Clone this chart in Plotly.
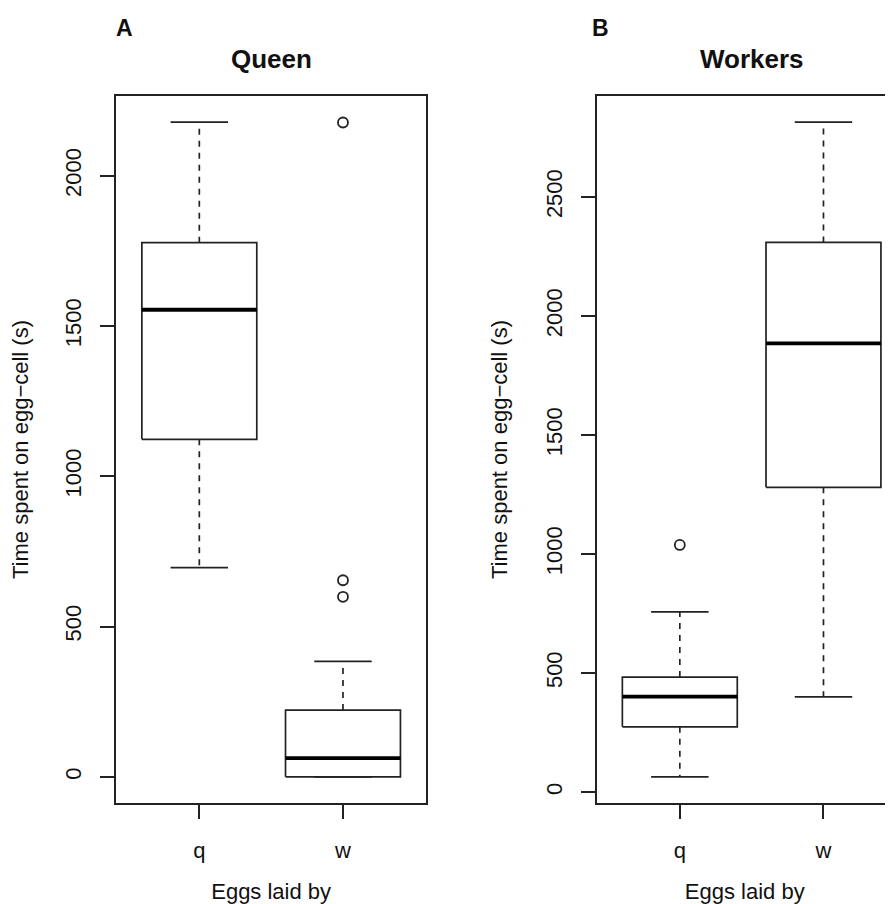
import plotly.graph_objects as go

# ---------------- data ----------------
groups = ["q", "w"]

queen_lower = [696, 0]
queen_q1 = [1123, 0]
queen_median = [1554, 62]
queen_q3 = [1777, 222]
queen_upper = [2178, 384]
queen_outliers = [[], [2177, 654, 599]]

workers_lower = [64, 400]
workers_q1 = [274, 1280]
workers_median = [401, 1885]
workers_q3 = [483, 2309]
workers_upper = [757, 2814]
workers_outliers = [[1038], []]

queen_ticks = [0, 500, 1000, 1500, 2000]
workers_ticks = [0, 500, 1000, 1500, 2000, 2500]

panel_letters = ["A", "B"]
panel_titles = ["Queen", "Workers"]
y_title = "Time spent on egg\u2212cell (s)"
x_title = "Eggs laid by"

# ---------------- styling ----------------
FONT = "Liberation Sans, Arial, Helvetica, sans-serif"
LINE = "#222222"
TXT = "#111111"
BOX_HALF = 0.4
CAP_HALF = 0.2


def box_traces(lower, q1, med, q3, upper, outliers, xa, ya):
    sx, sy, dx, dy, mx, my, ox, oy = [], [], [], [], [], [], [], []
    for i in range(len(groups)):
        p = i + 1
        # whiskers (dashed)
        dx += [p, p, None, p, p, None]
        dy += [q3[i], upper[i], None, q1[i], lower[i], None]
        # staples + box (solid)
        sx += [p - CAP_HALF, p + CAP_HALF, None, p - CAP_HALF, p + CAP_HALF, None]
        sy += [upper[i], upper[i], None, lower[i], lower[i], None]
        sx += [p - BOX_HALF, p + BOX_HALF, p + BOX_HALF, p - BOX_HALF, p - BOX_HALF, None]
        sy += [q1[i], q1[i], q3[i], q3[i], q1[i], None]
        # median
        mx += [p - BOX_HALF, p + BOX_HALF, None]
        my += [med[i], med[i], None]
        for v in outliers[i]:
            ox.append(p)
            oy.append(v)
    common = dict(xaxis=xa, yaxis=ya, showlegend=False, hoverinfo="skip")
    return [
        go.Scatter(x=dx, y=dy, mode="lines",
                   line=dict(color=LINE, width=1.7, dash="6px,6px"), **common),
        go.Scatter(x=sx, y=sy, mode="lines",
                   line=dict(color=LINE, width=1.7), **common),
        go.Scatter(x=mx, y=my, mode="lines",
                   line=dict(color="#000000", width=3.8), **common),
        go.Scatter(x=ox, y=oy, mode="markers",
                   marker=dict(symbol="circle-open", size=10,
                               color=LINE, line=dict(width=1.8, color=LINE)),
                   **common),
    ]


def r_range(*arrays):
    vals = []
    for a in arrays:
        for v in a:
            if isinstance(v, list):
                vals += v
            else:
                vals.append(v)
    lo, hi = min(vals), max(vals)
    pad = 0.04 * (hi - lo)
    return [lo - pad, hi + pad]


fig = go.Figure()
for t in box_traces(queen_lower, queen_q1, queen_median, queen_q3, queen_upper,
                    queen_outliers, "x", "y"):
    fig.add_trace(t)
for t in box_traces(workers_lower, workers_q1, workers_median, workers_q3,
                    workers_upper, workers_outliers, "x2", "y2"):
    fig.add_trace(t)

yr1 = r_range(queen_lower, queen_upper, queen_outliers)
yr2 = r_range(workers_lower, workers_upper, workers_outliers)

# the page body adds an 8px offset; figure is sized to fill the rest
OFF = 8
W, H = 893 - OFF, 904 - OFF
ML, MR, MT, MB = 116 - OFF, 0, 96 - OFF, 101
PW = W - ML - MR
PH = H - MT - MB
dom1 = [0, 310.3 / PW]
dom2 = [(596.5 - 116) / PW, 1]

xaxis_common = dict(
    tickvals=[1, 2], ticktext=groups, ticks="outside", ticklen=14,
    tickwidth=1.6, tickcolor=LINE, showline=True, linecolor=LINE,
    linewidth=1.7, mirror=True, showgrid=False, zeroline=False,
    ticklabelstandoff=13,
    tickfont=dict(size=22, color=TXT, family=FONT),
    title=dict(text=x_title, font=dict(size=22, color=TXT, family=FONT),
               standoff=24),
    fixedrange=True,
)
yaxis_common = dict(
    ticks="outside", ticklen=14, tickwidth=1.6, tickcolor=LINE,
    showline=True, linecolor=LINE, linewidth=1.7, showgrid=False,
    zeroline=False, tickangle=-90, ticklabelstandoff=10,
    tickfont=dict(size=22, color=TXT, family=FONT),
    title=dict(text=y_title, font=dict(size=22, color=TXT, family=FONT),
               standoff=28),
    fixedrange=True,
)

fig.update_layout(
    width=W, height=H,
    margin=dict(l=ML, r=MR, t=MT, b=MB, autoexpand=False),
    paper_bgcolor="white", plot_bgcolor="white",
    font=dict(family=FONT, color=TXT),
    xaxis=dict(domain=dom1, range=[0.42, 2.58], anchor="y", **xaxis_common),
    yaxis=dict(domain=[0, 1], range=yr1, anchor="x", tickvals=queen_ticks,
               mirror=True, **yaxis_common),
    xaxis2=dict(domain=dom2, range=[0.42, 2.484], anchor="y2", **xaxis_common),
    yaxis2=dict(domain=[0, 1], range=yr2, anchor="x2", tickvals=workers_ticks,
                mirror=False, **yaxis_common),
)

# pixel helpers (reference coordinates)
def px_y(yp):
    return (904 - MB - yp) / PH

def px_x(xp):
    return (xp - 116) / PW

annotations = []
for i, cx in enumerate([271.2, 751.5]):
    annotations.append(dict(
        text=f"<b>{panel_titles[i]}</b>", xref="paper", yref="paper",
        x=px_x(cx), y=px_y(59), xanchor="center", yanchor="middle",
        showarrow=False, font=dict(size=26, color=TXT, family=FONT)))
for i, lx in enumerate([114, 590]):
    annotations.append(dict(
        text=f"<b>{panel_letters[i]}</b>", xref="paper", yref="paper",
        x=px_x(lx), y=px_y(28), xanchor="left", yanchor="middle",
        showarrow=False, font=dict(size=23, color=TXT, family=FONT)))
fig.update_layout(annotations=annotations)

fig.write_html("out.html")
